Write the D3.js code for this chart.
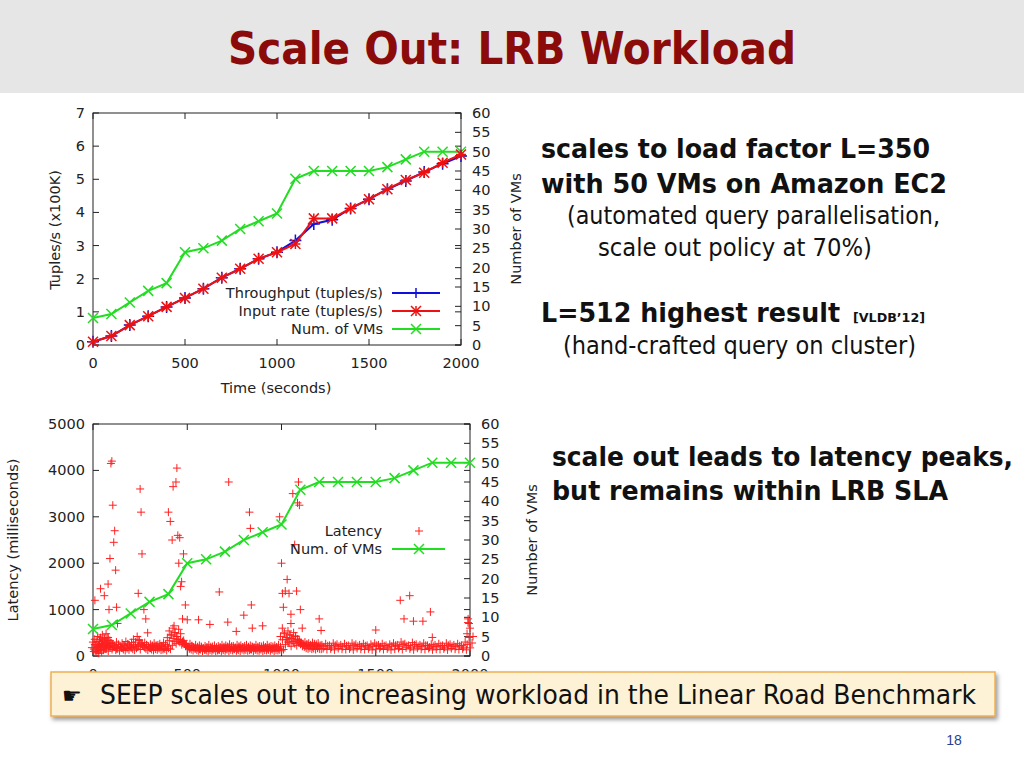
<!DOCTYPE html>
<html><head><meta charset="utf-8">
<script src="https://cdn.jsdelivr.net/npm/d3@7"></script>
<style>
body{margin:0;background:#fff;}
svg text{font-family:"DejaVu Sans",Verdana,sans-serif;}
</style></head><body>
<svg id="slide" width="1024" height="768"></svg>
<script>
// time axis samples (seconds)
const times = [0,100,200,300,400,500,600,700,800,900,1000,1100,1200,1300,1400,1500,1600,1700,1800,1900,2000];
const numVMs = [7,8,11,14,16,24,25,27,30,32,34,43,45,45,45,45,46,48,50,50,50];
const inputRate = [0.1,0.27,0.6,0.87,1.15,1.42,1.7,2.03,2.3,2.6,2.8,3.05,3.82,3.82,4.12,4.4,4.7,4.98,5.2,5.5,5.75];
const throughput = [0.1,0.27,0.6,0.87,1.15,1.42,1.7,2.03,2.3,2.6,2.8,3.15,3.65,3.78,4.12,4.4,4.7,4.95,5.22,5.47,5.7];
// latency samples [time, ms]
const latencyBase = [
 [5,150],[10,250],[15,80],[20,300],[25,200],[30,120],[35,350],[40,180],[45,260],[50,330],[55,220],[60,380],[65,150],[70,300],[75,250],[80,400],[85,200],[90,330],[95,280],
 [105,180],[115,220],[125,160],[135,250],[145,200],[155,170],[165,230],[175,190],[185,260],[195,210],[205,180],[215,240],[225,300],[235,200],[245,350],[255,280],[265,220],[275,180],[285,240],[295,200],
 [305,170],[315,210],[325,190],[335,230],[345,180],[355,200],[365,220],[375,170],[385,240],[395,210],[405,330],[415,450],[425,380],[435,500],[445,420],[455,350],[465,480],[475,300],[485,260],[495,220],
 [505,200],[515,170],[525,220],[535,180],[545,160],[555,200],[565,150],[575,190],[585,170],[595,140],[605,180],[615,160],[625,200],[635,150],[645,170],[655,190],[665,140],[675,180],[685,160],[695,200],
 [705,150],[715,190],[725,170],[735,210],[745,160],[755,180],[765,150],[775,200],[785,170],[795,190],[805,160],[815,180],[825,200],[835,150],[845,190],[855,170],[865,160],[875,200],[885,150],[895,180],
 [905,170],[915,190],[925,160],[935,200],[945,150],[955,180],[965,170],[975,190],[985,160],[995,200],[1005,350],[1015,500],[1025,400],[1035,300],[1045,450],[1055,380],[1065,320],[1075,420],[1085,360],[1095,300],
 [1105,280],[1115,240],[1125,220],[1135,250],[1145,210],[1155,230],[1165,200],[1175,240],[1185,220],[1195,210],[1205,230],[1225,200],[1245,220],[1265,190],[1285,230],[1305,210],[1325,200],[1345,220],[1365,190],[1385,230],
 [1405,210],[1425,200],[1445,220],[1465,190],[1485,210],[1505,230],[1525,200],[1545,220],[1565,190],[1585,210],[1605,230],[1625,200],[1645,250],[1665,220],[1685,190],[1705,240],[1725,210],[1745,200],[1765,230],[1785,190],
 [1805,210],[1825,200],[1845,220],[1865,190],[1885,230],[1905,210],[1925,200],[1945,220],[1965,190],[1985,250],[1995,400],[2000,600]
];
const latencyPeaks = [
 [10,1200],[40,1450],[60,1300],[80,1550],[90,2100],[95,4150],[100,4200],[105,3250],[110,2450],[115,2700],[120,1850],[125,1050],[130,700],[85,1000],
 [240,1350],[250,3600],[255,3100],[260,2200],[270,1000],[280,800],[290,500],
 [400,3100],[410,2900],[420,2500],[425,3650],[440,3750],[445,4050],[450,2600],[455,2000],[460,2550],[465,1500],[470,1600],[480,2200],[475,800],[490,1100],[430,650],[500,780],
 [560,780],[620,680],[670,1380],[720,3750],[715,730],[760,530],[800,880],[830,3100],[835,2750],[840,1100],[845,600],[900,650],
 [990,3000],[1000,2000],[1005,1350],[1010,1050],[1020,1400],[1030,1650],[1040,1350],[1050,900],[1060,3500],[1070,2400],[1080,1400],[1085,3300],[1090,3750],[1095,3250],[1100,1000],[1050,700],[1110,600],[1200,800],[1210,550],
 [1500,560],[1630,1200],[1650,800],[1680,1300],[1700,750],[1750,750],[1790,950],[1800,400],[1990,800],[1995,700]
];
const yTicksL1 = [0,1,2,3,4,5,6,7];
const yTicksR = [0,5,10,15,20,25,30,35,40,45,50,55,60];
const xTicks = [0,500,1000,1500,2000];
const yTicksL2 = [0,1000,2000,3000,4000,5000];

const FS = 14.5;
const svg = d3.select('#slide');

// header band + title
svg.append('rect').attr('width', 1024).attr('height', 93).attr('fill', '#e6e6e6');
svg.append('text').attr('x', 228).attr('y', 64)
    .style('font-family', '"DejaVu Sans Condensed","DejaVu Sans",sans-serif')
    .attr('font-size', 44).attr('font-weight', 'bold').attr('fill', '#8b0a0a')
    .attr('textLength', 568).attr('lengthAdjust', 'spacingAndGlyphs')
    .text('Scale Out: LRB Workload');

function xMark(g, x, y, s, color) {
    g.append('path').attr('d', `M${x - s},${y - s}L${x + s},${y + s}M${x - s},${y + s}L${x + s},${y - s}`)
        .attr('stroke', color).attr('stroke-width', 1.5);
}
function plusMark(g, x, y, s, color, w) {
    g.append('path').attr('d', `M${x - s},${y}L${x + s},${y}M${x},${y - s}L${x},${y + s}`)
        .attr('stroke', color).attr('stroke-width', w || 1.5);
}
function starMark(g, x, y, s, color) {
    xMark(g, x, y, s, color);
    plusMark(g, x, y, s, color);
}

function frame(g, x, yL, yR, leftTicks) {
    const [x0, x1] = x.range(), [y1, y0] = yL.range();
    g.append('rect').attr('x', x0).attr('y', y0).attr('width', x1 - x0).attr('height', y1 - y0)
        .attr('fill', 'none').attr('stroke', '#222').attr('stroke-width', 1);
    leftTicks.forEach(t => {
        g.append('line').attr('x1', x0).attr('x2', x0 + 6).attr('y1', yL(t)).attr('y2', yL(t)).attr('stroke', '#222');
        g.append('line').attr('x1', x1).attr('x2', x1 - 6).attr('y1', yL(t)).attr('y2', yL(t)).attr('stroke', '#222');
        g.append('text').attr('x', x0 - 8).attr('y', yL(t) + 5).attr('text-anchor', 'end')
            .attr('font-size', FS).attr('fill', '#222').text(t);
    });
    yTicksR.forEach(t => {
        g.append('line').attr('x1', x1).attr('x2', x1 - 6).attr('y1', yR(t)).attr('y2', yR(t)).attr('stroke', '#222');
        g.append('text').attr('x', x1 + 11).attr('y', yR(t) + 5)
            .attr('font-size', FS).attr('fill', '#222').text(t);
    });
    xTicks.forEach(t => {
        g.append('line').attr('x1', x(t)).attr('x2', x(t)).attr('y1', y1).attr('y2', y1 - 6).attr('stroke', '#222');
        g.append('line').attr('x1', x(t)).attr('x2', x(t)).attr('y1', y0).attr('y2', y0 + 6).attr('stroke', '#222');
        g.append('text').attr('x', x(t)).attr('y', y1 + 23).attr('text-anchor', 'middle')
            .attr('font-size', FS).attr('fill', '#222').text(t);
    });
}

// ---- top chart ----
const g1 = svg.append('g');
const x1 = d3.scaleLinear().domain([0, 2000]).range([93, 461]);
const yL1 = d3.scaleLinear().domain([0, 7]).range([345, 113]);
const yR1 = d3.scaleLinear().domain([0, 60]).range([345, 113]);
frame(g1, x1, yL1, yR1, yTicksL1);
g1.append('text').attr('transform', 'translate(60,230) rotate(-90)').attr('text-anchor', 'middle')
    .attr('font-size', FS).attr('fill', '#222').text('Tuples/s (x100K)');
g1.append('text').attr('transform', 'translate(521,229) rotate(-90)').attr('text-anchor', 'middle')
    .attr('font-size', FS).attr('fill', '#222').text('Number of VMs');
g1.append('text').attr('x', 276).attr('y', 393).attr('text-anchor', 'middle')
    .attr('font-size', FS).attr('fill', '#222').text('Time (seconds)');

const line1 = d3.line().x((d, i) => x1(times[i]));
const vmPath1 = times.map((t, i) => [x1(t), yR1(numVMs[i])]);
g1.append('path').attr('d', d3.line()(vmPath1)).attr('fill', 'none').attr('stroke', '#22dd22').attr('stroke-width', 2);
vmPath1.forEach(p => xMark(g1, p[0], p[1], 5, '#22dd22'));
g1.append('path').attr('d', line1.y(d => yL1(d))(throughput)).attr('fill', 'none').attr('stroke', '#1010dd').attr('stroke-width', 2);
throughput.forEach((v, i) => plusMark(g1, x1(times[i]), yL1(v), 6, '#1010dd'));
g1.append('path').attr('d', line1.y(d => yL1(d))(inputRate)).attr('fill', 'none').attr('stroke', '#ee1111').attr('stroke-width', 2);
inputRate.forEach((v, i) => starMark(g1, x1(times[i]), yL1(v), 5, '#ee1111'));

// legend
const leg1 = [['Throughput (tuples/s)', '#1010dd', plusMark], ['Input rate (tuples/s)', '#ee1111', starMark], ['Num. of VMs', '#22dd22', xMark]];
leg1.forEach((d, i) => {
    const y = 293 + i * 18;
    g1.append('text').attr('x', 383).attr('y', y + 5).attr('text-anchor', 'end').attr('font-size', FS).attr('fill', '#222').text(d[0]);
    g1.append('line').attr('x1', 392).attr('x2', 440).attr('y1', y).attr('y2', y).attr('stroke', d[1]).attr('stroke-width', 2);
    d[2](g1, 416, y, 5, d[1]);
});

// ---- bottom chart ----
const g2 = svg.append('g');
const x2 = d3.scaleLinear().domain([0, 2000]).range([93, 470]);
const yL2 = d3.scaleLinear().domain([0, 5000]).range([656, 424]);
const yR2 = d3.scaleLinear().domain([0, 60]).range([656, 424]);
frame(g2, x2, yL2, yR2, yTicksL2);
g2.append('text').attr('transform', 'translate(18,540) rotate(-90)').attr('text-anchor', 'middle')
    .attr('font-size', FS).attr('fill', '#222').text('Latency (milliseconds)');
g2.append('text').attr('transform', 'translate(537,540) rotate(-90)').attr('text-anchor', 'middle')
    .attr('font-size', FS).attr('fill', '#222').text('Number of VMs');

latencyBase.concat(latencyPeaks).forEach(d => plusMark(g2, x2(d[0]), yL2(d[1]), 4, '#ff2020', 1));
// extra marks around the base band from the same readings
latencyBase.forEach(d => {
    plusMark(g2, x2(d[0]) + 3, yL2(d[1] * 0.7), 4, '#ff2020', 1);
    plusMark(g2, x2(d[0]) - 2, yL2(d[1] * 1.2), 4, '#ff2020', 1);
});
const vmPath2 = times.map((t, i) => [x2(t), yR2(numVMs[i])]);
g2.append('path').attr('d', d3.line()(vmPath2)).attr('fill', 'none').attr('stroke', '#22dd22').attr('stroke-width', 2);
vmPath2.forEach(p => xMark(g2, p[0], p[1], 5, '#22dd22'));
g2.append('text').attr('x', 382).attr('y', 536).attr('text-anchor', 'end').attr('font-size', FS).attr('fill', '#222').text('Latency');
plusMark(g2, 419, 531, 4, '#ff2020', 1);
g2.append('text').attr('x', 382).attr('y', 554).attr('text-anchor', 'end').attr('font-size', FS).attr('fill', '#222').text('Num. of VMs');
g2.append('line').attr('x1', 392).attr('x2', 445).attr('y1', 549).attr('y2', 549).attr('stroke', '#22dd22').attr('stroke-width', 2);
xMark(g2, 419, 549, 5, '#22dd22');

// ---- right side text ----
const fam = '"DejaVu Sans Condensed","Liberation Sans",sans-serif';
function rtext(x, y, s, size, bold, w) {
    return svg.append('text').attr('x', x).attr('y', y).style('font-family', fam)
        .attr('font-size', size).attr('font-weight', bold ? 'bold' : 'normal').attr('fill', '#111')
        .attr('textLength', w).attr('lengthAdjust', 'spacingAndGlyphs').text(s);
}
rtext(541, 158, 'scales to load factor L=350', 27, true, 389);
rtext(541, 193, 'with 50 VMs on Amazon EC2', 27, true, 406);
rtext(567, 224, '(automated query parallelisation,', 24, false, 373);
rtext(598, 256, 'scale out policy at 70%)', 24, false, 274);
rtext(541, 322, 'L=512 highest result', 27, true, 299);
rtext(853, 322, '[VLDB\u201912]', 13, true, 72);
rtext(563, 354, '(hand-crafted query on cluster)', 24, false, 353);
rtext(552, 466, 'scale out leads to latency peaks,', 27, true, 461);
rtext(552, 500, 'but remains within LRB SLA', 27, true, 396);

// ---- callout box ----
const defs = svg.append('defs');
const f = defs.append('filter').attr('id', 'sh').attr('x', '-5%').attr('y', '-20%').attr('width', '110%').attr('height', '160%');
f.append('feDropShadow').attr('dx', 2).attr('dy', 3).attr('stdDeviation', 2).attr('flood-color', '#999');
svg.append('rect').attr('x', 51).attr('y', 672).attr('width', 944).attr('height', 44)
    .attr('fill', '#fdf1d6').attr('stroke', '#f0b050').attr('stroke-width', 1.5).attr('filter', 'url(#sh)');
svg.append('text').attr('x', 62).attr('y', 703).attr('font-size', 22).attr('fill', '#111').text('\u261B');
rtext(100, 704, 'SEEP scales out to increasing workload in the Linear Road Benchmark', 26, false, 876);
svg.append('text').attr('x', 954).attr('y', 745).attr('text-anchor', 'middle').style('font-family', '"Liberation Sans",sans-serif')
    .attr('font-size', 14).attr('fill', '#2a3f8f').text('18');
</script>
</body></html>
